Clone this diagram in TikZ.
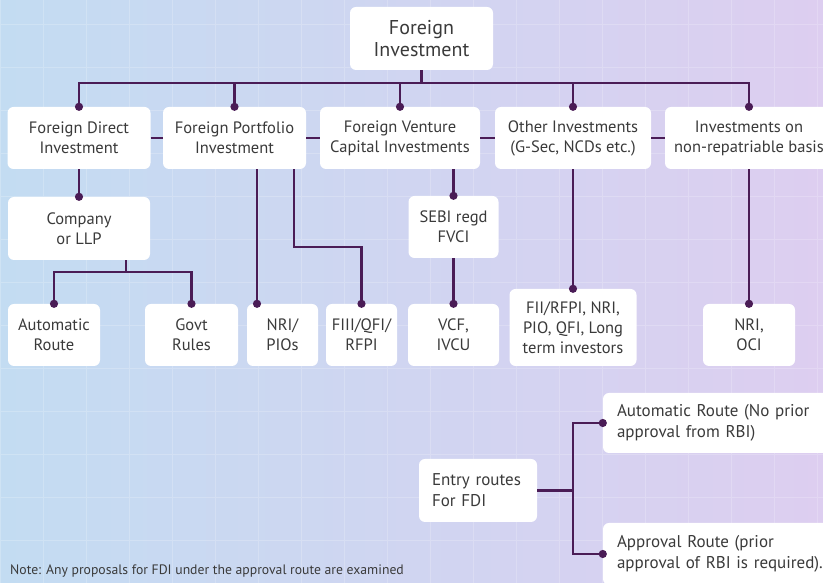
\documentclass[tikz,border=0pt]{standalone}
\usepackage{fontspec}
\setmainfont{PT Sans}
\usepackage{xcolor}
\usepackage{tikz}
\usetikzlibrary{positioning, arrows.meta}

\definecolor{bgleft}{HTML}{C3DCF2}
\definecolor{bgmid}{HTML}{D2D6F1}
\definecolor{bgright}{HTML}{DDCEF0}
\definecolor{wirec}{HTML}{4A1C56}
\definecolor{ink}{HTML}{3A3A3A}

\begin{document}
\begin{tikzpicture}[x=1pt, y=1pt,
    box/.style={fill=white, rounded corners=6pt, align=center, inner sep=0pt, text=ink, font=\fontsize{16.5}{20}\selectfont},
    wire/.style={draw=wirec, line width=2.4pt},
    link/.style={wire, -{Circle[length=8pt, width=8pt]}, shorten >=-4pt}]
    % Canvas
    \useasboundingbox (0,0) rectangle (823,583);
    \clip (0,0) rectangle (823,583);
    \shade[left color=bgleft, middle color=bgmid, right color=bgright] (0,0) rectangle (823,583);
    \draw[white, opacity=0.2, line width=0.6pt, step=43] (0,0) grid (823,583);

    % Nodes
    \node (root) [box, minimum width=143, minimum height=63, font=\fontsize{20}{22}\selectfont] at (421.5,544.5) {Foreign\\Investment}; % top of the tree
    \node (fdi) [box, minimum width=143, minimum height=62] at (79,445) {Foreign Direct\\Investment};
    \node (fpi) [box, minimum width=143, minimum height=62] at (234.5,445) {Foreign Portfolio\\Investment};
    \node (fvci) [box, minimum width=160, minimum height=62] at (400,445) {Foreign Venture\\Capital Investments};
    \node (oth) [box, minimum width=156, minimum height=62] at (573,445) {Other Investments\\(G-Sec, NCDs etc.)};
    \node (nonrep) [box, minimum width=168, minimum height=62] at (749,445) {Investments on\\non-repatriable basis};
    \node (comp) [box, minimum width=142, minimum height=63] at (79,354.5) {Company\\or LLP}; % under FDI
    \node (auto) [box, minimum width=92, minimum height=62] at (54,248) {Automatic\\Route};
    \node (govt) [box, minimum width=93, minimum height=62] at (191.5,248) {Govt\\Rules};
    \node (nri) [box, minimum width=71, minimum height=62] at (282.5,248) {NRI/\\PIOs}; % under FPI
    \node (fiii) [box, minimum width=71, minimum height=62] at (361.5,248) {FIII/QFI/\\RFPI};
    \node (sebi) [box, minimum width=90, minimum height=62] at (453.5,356) {SEBI regd\\FVCI}; % under FVCI
    \node (vcf) [box, minimum width=91, minimum height=62] at (453.5,248) {VCF,\\IVCU};
    \node (fii) [box, minimum width=127, minimum height=77] at (573,255.5) {FII/RFPI, NRI,\\PIO, QFI, Long\\term investors};
    \node (nrioci) [box, minimum width=92, minimum height=62] at (749,248) {NRI,\\OCI};
    \node (entry) [box, minimum width=118, minimum height=63, align=left, text width=92, font=\fontsize{17}{21}\selectfont] at (478,92.5) {Entry routes\\For FDI}; % entry routes block
    \node (autor) [box, minimum width=240, minimum height=60, align=left, text width=212, font=\fontsize{17}{21}\selectfont] at (723,160) {Automatic Route (No prior\\approval from RBI)};
    \node (appr) [box, minimum width=240, minimum height=62, align=left, text width=212, font=\fontsize{17}{21}\selectfont] at (723,29) {Approval Route (prior\\approval of RBI is required).};
    \node (note) [anchor=base west, inner sep=0pt, text=ink, font=\fontsize{13.7}{15}\selectfont] at (10,8) {Note: Any proposals for FDI under the approval route are examined};

    % Connectors
    \foreach \kid in {fdi, fpi, fvci, oth, nonrep}
        \draw[link] (root.south) -- ++(0,-13) -| (\kid.north);
    \draw[wire] (fdi.east) -- (fpi.west);
    \draw[wire] (fpi.east) -- (fvci.west);
    \draw[wire] (fvci.east) -- (oth.west);
    \draw[wire] (oth.east) -- (nonrep.west);
    \draw[link] (fdi.south) -- (comp.north);
    \draw[link] ([xshift=47pt]comp.south) -- ++(0,-12) -| (auto.north);
    \draw[link] ([xshift=47pt]comp.south) -- ++(0,-12) -| (govt.north);
    \draw[link] ([xshift=22.5pt]fpi.south) -- ([xshift=-25.5pt]nri.north);
    \draw[link] ([xshift=59.5pt]fpi.south) -- ++(0,-78) -| (fiii.north);
    \draw[link] (sebi.north |- fvci.south) -- (sebi.north);
    \draw[link] (sebi.south) -- (vcf.north);
    \draw[link] (oth.south) -- (fii.north);
    \draw[link] (nonrep.south) -- (nrioci.north);
    \draw[link] (entry.east) -- ++(36,0) |- (autor.west);
    \draw[link] (entry.east) -- ++(36,0) |- (appr.west);
\end{tikzpicture}
\end{document}
